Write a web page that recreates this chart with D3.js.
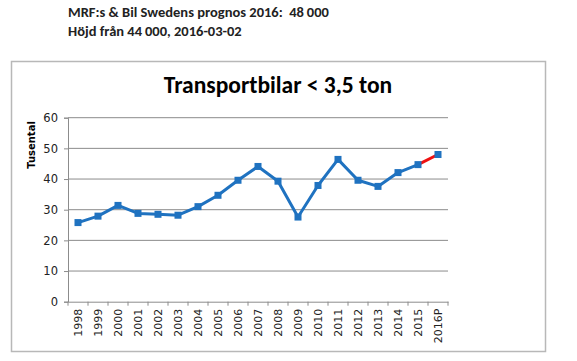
<!DOCTYPE html>
<html><head><meta charset="utf-8">
<script src="https://cdn.jsdelivr.net/npm/d3@7"></script>
<style>body{margin:0;background:#fff}svg{display:block}text{white-space:pre}</style>
</head><body>
<script>
const categories = ["1998","1999","2000","2001","2002","2003","2004","2005","2006","2007","2008","2009","2010","2011","2012","2013","2014","2015","2016P"];
const values = [25.8,27.9,31.4,28.8,28.5,28.2,31.0,34.7,39.6,44.1,39.3,27.6,37.9,46.4,39.6,37.6,42.1,44.7,48.0];
const yTicks = [0,10,20,30,40,50,60];
const headerLines = ["MRF:s & Bil Swedens prognos 2016:  48\u2009000","Höjd från 44\u2009000, 2016-03-02"];
const title = "Transportbilar < 3,5 ton";
const yLabel = "Tusental";

const W=577,H=361;
const svg=d3.select("body").append("svg").attr("width",W).attr("height",H);
const F="Calibri, Carlito, Lato, 'Open Sans', 'Liberation Sans', sans-serif";

svg.selectAll("text.hdr").data(headerLines).enter().append("text")
  .attr("x",68).attr("y",(d,i)=>17+i*19)
  .attr("font-family",F).attr("font-weight","bold").attr("font-size",14.5).attr("fill","#222")
  .text(d=>d);

svg.append("rect").attr("x",11.5).attr("y",61.5).attr("width",534).attr("height",290)
  .attr("fill","#fff").attr("stroke","#b8b8b8").attr("stroke-width",1.5);

svg.append("text").attr("x",278).attr("y",93).attr("text-anchor","middle")
  .attr("font-family",F).attr("font-weight","bold").attr("font-size",23.5).attr("fill","#000").text(title);

const x=d3.scaleBand().domain(categories).range([68,448]);
const y=d3.scaleLinear().domain([0,60]).range([301.7,117.7]);

svg.append("g").selectAll("line").data(yTicks.filter(d=>d>0)).enter().append("line")
  .attr("x1",68).attr("x2",448).attr("y1",d=>y(d)).attr("y2",d=>y(d))
  .attr("stroke","#8c8c8c").attr("stroke-width",1);

const ya=svg.append("g").attr("transform","translate(68,0)")
  .call(d3.axisLeft(y).tickValues(yTicks).tickSize(4).tickPadding(6));
ya.select(".domain").attr("stroke","#8c8c8c");
ya.selectAll(".tick line").attr("stroke","#8c8c8c");
ya.selectAll("text").attr("font-family","Verdana, 'DejaVu Sans', sans-serif").attr("font-size",11.5).attr("fill","#222");

const xa=svg.append("g").attr("transform",`translate(0,${y(0)})`)
  .call(d3.axisBottom(x).tickSize(0).tickPadding(6));
xa.select(".domain").attr("stroke","#8c8c8c");
xa.selectAll(".tick line").remove();
xa.selectAll("text").attr("font-family","Verdana, 'DejaVu Sans', sans-serif").attr("font-size",11).attr("fill","#222")
  .attr("transform","rotate(-90)").attr("text-anchor","end").attr("dy","0.35em").attr("x",-7).attr("y",0);
const bounds=categories.map(c=>x(c)).concat([x(categories[categories.length-1])+x.bandwidth()]);
svg.append("g").selectAll("line").data(bounds).enter().append("line")
  .attr("x1",d=>d).attr("x2",d=>d).attr("y1",y(0)).attr("y2",y(0)+4)
  .attr("stroke","#8c8c8c");

svg.append("text").attr("transform",`translate(35,145) rotate(-90)`).attr("text-anchor","middle")
  .attr("font-family","Verdana, 'DejaVu Sans', sans-serif").attr("font-weight","bold").attr("font-size",10).attr("fill","#000").text(yLabel);

const cx=c=>x(c)+x.bandwidth()/2;
const pts=categories.map((c,i)=>[cx(c),y(values[i])]);
const line=d3.line();
svg.append("path").attr("d",line(pts.slice(0,pts.length-1))).attr("fill","none")
  .attr("stroke","#1f72c0").attr("stroke-width",3).attr("stroke-linejoin","round");
svg.append("path").attr("d",line(pts.slice(pts.length-2))).attr("fill","none")
  .attr("stroke","#ee1111").attr("stroke-width",3);
svg.append("g").selectAll("rect").data(pts).enter().append("rect")
  .attr("x",d=>d[0]-3.5).attr("y",d=>d[1]-3.5).attr("width",7).attr("height",7).attr("fill","#1f72c0");
</script>
</body></html>
